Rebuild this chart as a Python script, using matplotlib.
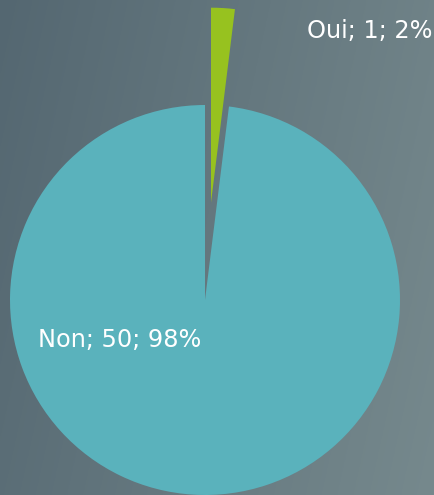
import matplotlib
matplotlib.use("Agg")
import matplotlib.pyplot as plt
import numpy as np

categories = ["Oui", "Non"]
values = [1, 50]
colors = ["#97C21F", "#5AB2BC"]

W, H = 434, 495
fig = plt.figure(figsize=(W / 100, H / 100), dpi=100)

# background gradient
bg = fig.add_axes([0, 0, 1, 1])
bg.set_axis_off()
gx = np.linspace(0, 1, 256)
gy = np.linspace(0, 1, 256)
X, Y = np.meshgrid(gx, gy)
t = np.clip(0.8 * X + 0.2 * Y, 0, 1)
left = np.array([84, 103, 113]) / 255
right = np.array([118, 137, 141]) / 255
img = left[None, None, :] * (1 - t[..., None]) + right[None, None, :] * t[..., None]
bg.imshow(img, extent=[0, 1, 0, 1], aspect="auto", origin="upper")

ax = fig.add_axes([0, 0, 1, 1])
ax.set_axis_off()
ax.patch.set_alpha(0)

ax.pie(values, colors=colors, startangle=90, counterclock=False,
       explode=[0.5, 0], radius=1.0,
       wedgeprops=dict(linewidth=0))

cx_px, cy_px, r_px = 205, 300, 195
ax.set_aspect("auto")
ax.set_xlim(-cx_px / r_px, (W - cx_px) / r_px)
ax.set_ylim(-(H - cy_px) / r_px, cy_px / r_px)

total = sum(values)
label_pos = [(0.8436, 1.3436), (-0.4385, -0.241)]
for cat, v, (lx, ly) in zip(categories, values, label_pos):
    ax.text(lx, ly, f"{cat}; {v}; {round(100 * v / total)}%",
            ha="center", va="baseline", color="white",
            fontsize=17.3, family=["DejaVu Sans"])

fig.savefig("out.png", dpi=100)
